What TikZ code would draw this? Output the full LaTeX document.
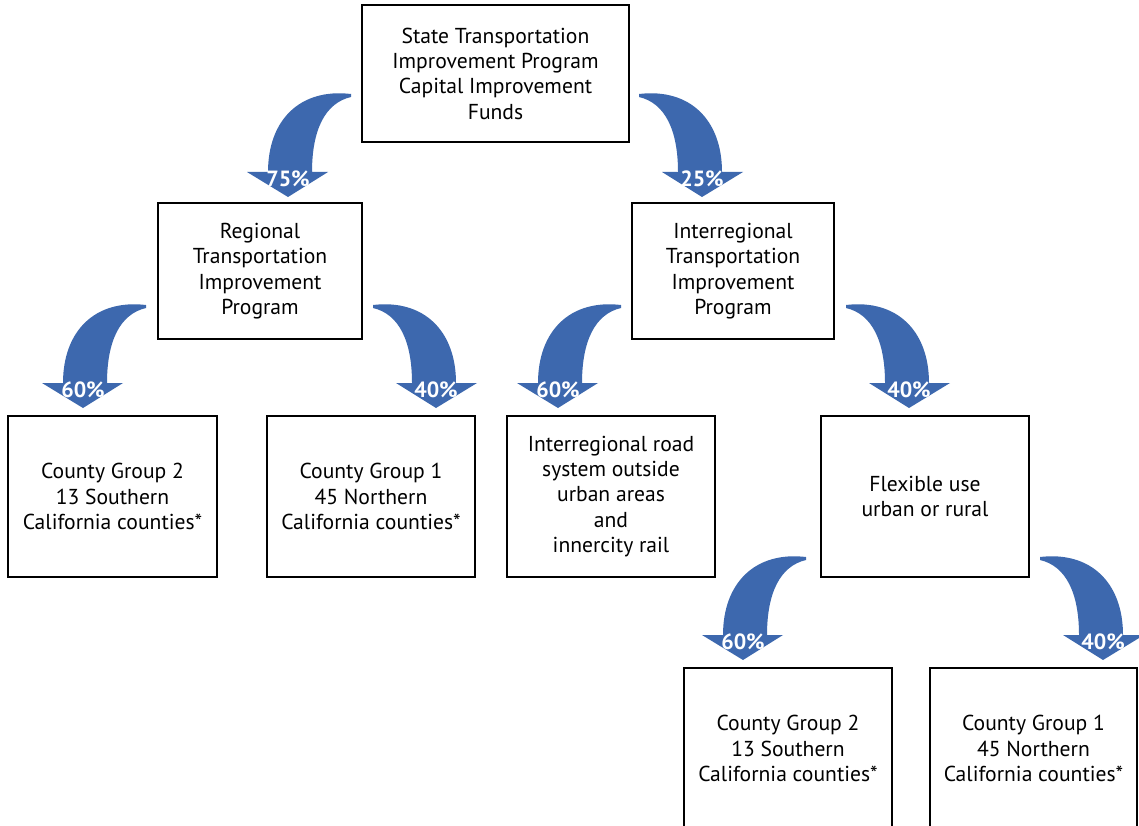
\documentclass[tikz,border=0pt]{standalone}
\usepackage{fontspec}
\setmainfont{PT Sans}
\definecolor{arrowblue}{RGB}{61,104,174}
\tikzset{
  box/.style={draw=black, line width=1.3pt, fill=white, align=center, inner sep=0pt,
    font=\fontsize{21.6}{25.3}\selectfont},
  pctlabel/.style={text=white, font=\bfseries\fontsize{22}{22}\selectfont, inner sep=0pt},
}
\newcommand\bendshape{(63,-103) .. controls (12,-109) and (-20,-77) .. (-20,-25) -- (-41,-25) -- (0,0) -- (40,-25) -- (24,-25) .. controls (24,-67) and (37,-94) .. (63,-100) -- cycle}
\newcommand\bendarrowL[4]{%
  \begin{scope}[shift={(#1,#2)}]\fill[arrowblue] \bendshape;\end{scope}
  \node[pctlabel] (#4) at (#1,#2-18) {#3};}
\newcommand\bendarrowR[4]{%
  \begin{scope}[shift={(#1,#2)}, xscale=-1]\fill[arrowblue] \bendshape;\end{scope}
  \node[pctlabel] (#4) at (#1,#2-18) {#3};}
\begin{document}
\begin{tikzpicture}[x=1pt,y=-1pt]
\useasboundingbox (0,0) rectangle (1139,826);
\clip (0,0) rectangle (1139,826);
\fill[white] (0,0) rectangle (1139,826);

\node[box, minimum width=267pt, minimum height=137pt] (stip) at (495.5,73.5)
  {State Transportation\\Improvement Program\\Capital Improvement\\Funds};
\node[box, minimum width=204pt, minimum height=136pt] (rtip) at (260,271)
  {Regional\\Transportation\\Improvement\\Program};
\node[box, minimum width=202pt, minimum height=136pt] (itip) at (733,271)
  {Interregional\\Transportation\\Improvement\\Program};
\node[box, minimum width=209pt, minimum height=161pt] (cg2a) at (112.5,496.5)
  {County Group 2\\13 Southern\\California counties*};
\node[box, minimum width=208pt, minimum height=161pt] (cg1a) at (371,496.5)
  {County Group 1\\45 Northern\\California counties*};
\node[box, minimum width=208pt, minimum height=161pt] (road) at (611,496.5)
  {Interregional road\\system outside\\urban areas\\and\\innercity rail};
\node[box, minimum width=208pt, minimum height=161pt] (flex) at (925,496.5)
  {Flexible use\\urban or rural};
\node[box, minimum width=208pt, minimum height=161pt] (cg2b) at (788,748.5)
  {County Group 2\\13 Southern\\California counties*};
\node[box, minimum width=207pt, minimum height=161pt] (cg1b) at (1033.5,748.5)
  {County Group 1\\45 Northern\\California counties*};

\bendarrowL{288}{197}{75\%}{p75}
\bendarrowR{702}{197}{25\%}{p25}
\bendarrowL{83}{408}{60\%}{p60a}
\bendarrowR{436}{408}{40\%}{p40a}
\bendarrowL{558}{408}{60\%}{p60b}
\bendarrowR{909}{408}{40\%}{p40b}
\bendarrowL{743}{660}{60\%}{p60c}
\bendarrowR{1103}{660}{40\%}{p40c}
\end{tikzpicture}
\end{document}
